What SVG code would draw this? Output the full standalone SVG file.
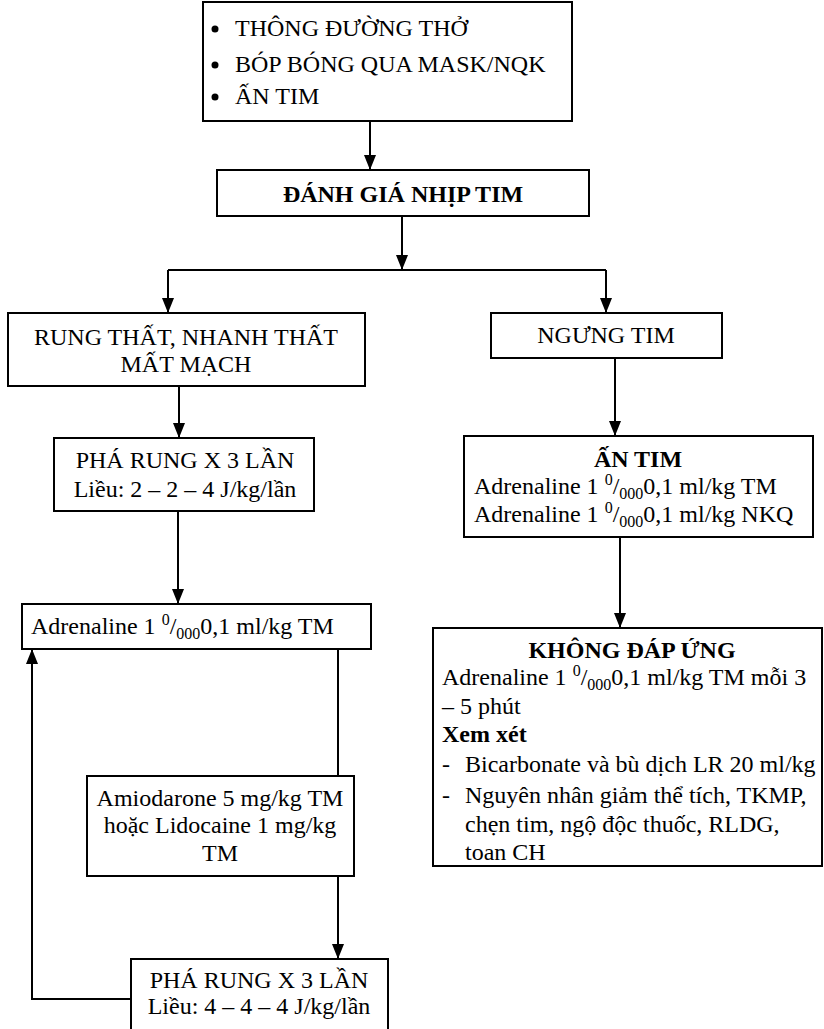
<svg xmlns="http://www.w3.org/2000/svg" width="824" height="1029" viewBox="0 0 824 1029">
  <style>
    .box { fill: #ffffff; stroke: #000000; stroke-width: 2; }
    .ln { fill: none; stroke: #000000; stroke-width: 2; }
    .arr { fill: none; stroke: #000000; stroke-width: 2; marker-end: url(#head); }
    text { font-family: "Liberation Serif", "Times New Roman", serif; font-size: 24px; fill: #000000; }
    .c { text-anchor: middle; }
    .b { font-weight: bold; }
    .sm { font-size: 16px; }
  </style>
  <defs>
    <marker id="head" markerUnits="userSpaceOnUse" markerWidth="12" markerHeight="16" viewBox="0 0 12 16" refX="15" refY="6" orient="auto">
      <path d="M0,0 L15,6 L0,12 Z" fill="#000000"/>
    </marker>
  </defs>
  <rect width="824" height="1029" fill="#ffffff"/>

  <!-- connectors -->
  <g id="connectors">
    <path class="arr" d="M370,121 V170"/>
    <path class="arr" d="M402,216 V270"/>
    <path class="ln" d="M168,270 H606"/>
    <path class="arr" d="M168,270 V313"/>
    <path class="arr" d="M606,270 V313"/>
    <path class="arr" d="M179,386 V438"/>
    <path class="arr" d="M178,511 V604"/>
    <path class="ln" d="M338,649 V776"/>
    <path class="arr" d="M338,876 V959"/>
    <path class="arr" d="M131,999 H32 V649"/>
    <path class="arr" d="M615,358 V436"/>
    <path class="arr" d="M620,537 V628"/>
  </g>

  <!-- initial steps -->
  <g id="n-initial">
    <rect class="box" x="203" y="2" width="369" height="119"/>
    <circle cx="215" cy="29" r="3.5"/>
    <circle cx="215" cy="65" r="3.5"/>
    <circle cx="215" cy="97" r="3.5"/>
    <text x="235" y="36">THÔNG ĐƯỜNG THỞ</text>
    <text x="235" y="72">BÓP BÓNG QUA MASK/NQK</text>
    <text x="235" y="104">ẤN TIM</text>
  </g>

  <g id="n-assess">
    <rect class="box" x="217" y="170" width="372" height="46"/>
    <text class="c b" x="403" y="202">ĐÁNH GIÁ NHỊP TIM</text>
  </g>

  <!-- left branch -->
  <g id="n-vf">
    <rect class="box" x="8" y="313" width="357" height="73"/>
    <text class="c" x="186" y="345">RUNG THẤT, NHANH THẤT</text>
    <text class="c" x="186" y="372">MẤT MẠCH</text>
  </g>

  <g id="n-shock1">
    <rect class="box" x="54" y="438" width="260" height="73"/>
    <text class="c" x="185" y="468">PHÁ RUNG X 3 LẦN</text>
    <text class="c" x="185" y="497">Liều: 2 – 2 – 4 J/kg/lần</text>
  </g>

  <g id="n-adr-left">
    <rect class="box" x="22" y="604" width="349" height="45"/>
    <text x="31" y="634">Adrenaline 1 <tspan class="sm" dy="-9">0</tspan><tspan dy="9">/</tspan><tspan class="sm" dy="5">000</tspan><tspan dy="-5">0,1 ml/kg TM</tspan></text>
  </g>

  <g id="n-amio">
    <rect class="box" x="87" y="776" width="267" height="100"/>
    <text class="c" x="220" y="806">Amiodarone 5 mg/kg TM</text>
    <text class="c" x="220" y="833">hoặc Lidocaine 1 mg/kg</text>
    <text class="c" x="220" y="861">TM</text>
  </g>

  <g id="n-shock2">
    <rect class="box" x="131" y="959" width="257" height="80"/>
    <text class="c" x="259" y="988">PHÁ RUNG X 3 LẦN</text>
    <text class="c" x="259" y="1014">Liều: 4 – 4 – 4 J/kg/lần</text>
  </g>

  <!-- right branch -->
  <g id="n-arrest">
    <rect class="box" x="491" y="313" width="231" height="45"/>
    <text class="c" x="606" y="343">NGƯNG TIM</text>
  </g>

  <g id="n-cpr">
    <rect class="box" x="464" y="436" width="349" height="101"/>
    <text class="c b" x="638" y="467">ẤN TIM</text>
    <text x="474" y="494">Adrenaline 1 <tspan class="sm" dy="-9">0</tspan><tspan dy="9">/</tspan><tspan class="sm" dy="5">000</tspan><tspan dy="-5">0,1 ml/kg TM</tspan></text>
    <text x="474" y="522">Adrenaline 1 <tspan class="sm" dy="-9">0</tspan><tspan dy="9">/</tspan><tspan class="sm" dy="5">000</tspan><tspan dy="-5">0,1 ml/kg NKQ</tspan></text>
  </g>

  <g id="n-noresponse">
    <rect class="box" x="433" y="628" width="389" height="238"/>
    <text class="c b" x="632" y="658">KHÔNG ĐÁP ỨNG</text>
    <text x="442" y="685">Adrenaline 1 <tspan class="sm" dy="-9">0</tspan><tspan dy="9">/</tspan><tspan class="sm" dy="5">000</tspan><tspan dy="-5">0,1 ml/kg TM mỗi 3</tspan></text>
    <text x="442" y="714">– 5 phút</text>
    <text class="b" x="442" y="742">Xem xét</text>
    <text x="442" y="772">-</text>
    <text x="465" y="772">Bicarbonate và bù dịch LR 20 ml/kg</text>
    <text x="442" y="803">-</text>
    <text x="465" y="803">Nguyên nhân giảm thể tích, TKMP,</text>
    <text x="465" y="832">chẹn tim, ngộ độc thuốc, RLDG,</text>
    <text x="465" y="860">toan CH</text>
  </g>
</svg>
